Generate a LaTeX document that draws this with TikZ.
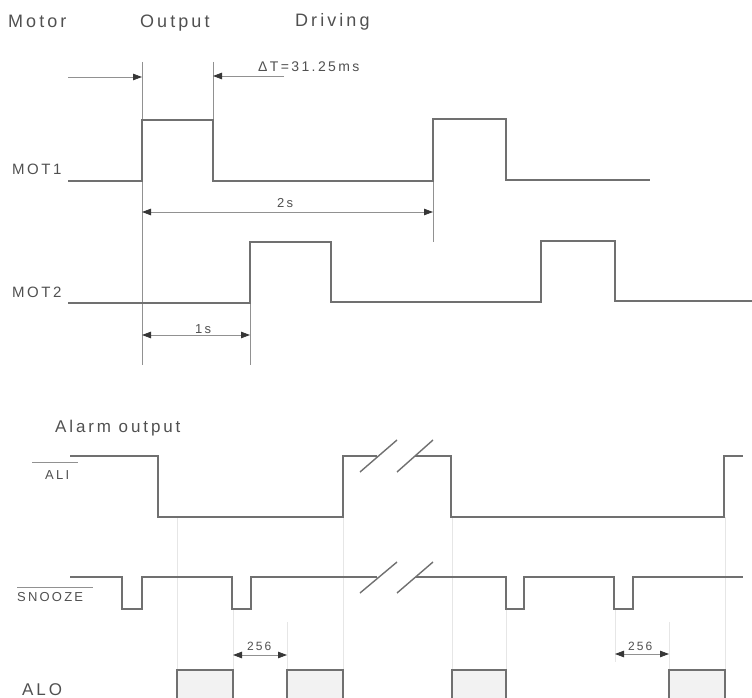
\documentclass[tikz,border=0pt]{standalone}
\usepackage{fontspec}
\setmainfont{Liberation Sans}
\newfontfamily\labfont[LetterSpace=17]{Liberation Sans}
\usetikzlibrary{arrows.meta}
\definecolor{wavegray}{RGB}{112,112,112}
\definecolor{guidegray}{RGB}{145,145,145}
\definecolor{faintgray}{RGB}{230,230,230}
\definecolor{textgray}{RGB}{80,80,80}
\definecolor{tipgray}{RGB}{55,55,55}
\definecolor{alofill}{RGB}{242,242,242}
\begin{document}
\begin{tikzpicture}[x=1pt,y=-1pt,
  wave/.style={draw=wavegray, line width=1.8pt, line join=miter},
  guide/.style={draw=guidegray, line width=0.8pt},
  faint/.style={draw=faintgray, line width=0.8pt},
  tip/.tip={Triangle[length=9pt,width=6.5pt,fill=tipgray,color=tipgray]},
  dimboth/.style={guide, tip-tip},
  dimright/.style={guide, -tip},
  lbl/.style={inner sep=0pt, anchor=base west, text=textgray},
  big/.style={lbl, font=\labfont\fontsize{18}{20}\selectfont},
  mid/.style={lbl, font=\labfont\fontsize{15}{17}\selectfont},
  small/.style={lbl, font=\labfont\fontsize{13}{15}\selectfont},
  tiny/.style={lbl, font=\labfont\fontsize{12}{14}\selectfont},
  slash/.style={draw=wavegray, line width=1.4pt},
  alo/.style={wave, fill=alofill},
]
\useasboundingbox (0,0) rectangle (752,698);

% ---------- titles ----------
\node[big] (motor) at (8,28) {Motor};
\node[big] (output) at (140,28) {Output};
\node[big] (driving) at (295,27) {Driving};

% ---------- guide coordinates ----------
\coordinate (g1top) at (142,62);
\coordinate (g1bot) at (142,365);
\coordinate (g2top) at (213,62);
\coordinate (g2bot) at (213,181);
\coordinate (g3top) at (433,120);
\coordinate (g3bot) at (433,242);
\coordinate (g4top) at (250,303);
\coordinate (g4bot) at (250,365);
\draw[guide] (g1top) -- (g1bot);
\draw[guide] (g2top) -- (g2bot);
\draw[guide] (g3top) -- (g3bot);
\draw[guide] (g4top) -- (g4bot);

% delta T arrows
\coordinate (dtl) at (68,77);
\coordinate (dtla) at (142,77);
\coordinate (dtr) at (284,76);
\coordinate (dtra) at (213,76);
\draw[dimright] (dtl) -- (dtla);
\draw[dimright] (dtr) -- (dtra);
\node[small, font=\labfont\fontsize{14}{16}\selectfont] (dt) at (258,72) {ΔT=31.25ms};

% ---------- MOT1 ----------
\node[mid] (mot1) at (12,174) {MOT1};
\draw[wave] (68,181) -- (142,181) -- (142,120) -- (213,120) -- (213,181)
  -- (433,181) -- (433,119) -- (506,119) -- (506,180) -- (650,180);

% 2s
\coordinate (s2a) at (142,212);
\coordinate (s2b) at (433,212);
\draw[dimboth] (s2a) -- (s2b);
\node[small] (s2) at (277,207) {2s};

% ---------- MOT2 ----------
\node[mid] (mot2) at (12,297) {MOT2};
\draw[wave] (68,303) -- (250,303) -- (250,242) -- (331,242) -- (331,302)
  -- (541,302) -- (541,241) -- (615,241) -- (615,301) -- (752,301);

% 1s
\coordinate (s1a) at (142,335);
\coordinate (s1b) at (250,335);
\draw[dimboth] (s1a) -- (s1b);
\node[small] (s1) at (195,333) {1s};

% ---------- Alarm output ----------
\node[big, font=\labfont\fontsize{17}{19}\selectfont] (alarm) at (55,432) {Alarm output};

% faint guides
\foreach \gx/\gy in {177/517, 233/609, 287/622, 343/517, 452/517, 506/609, 669/622, 725/517}
  \draw[faint] (\gx,\gy) -- (\gx,670);
\draw[faint] (615,609) -- (615,662);

% ALI
\node[small] (ali) at (45,479) {ALI};
\draw[guide, line width=1pt] (32,462) -- (78,462);
\draw[wave] (70,456) -- (158,456) -- (158,517) -- (343,517) -- (343,456) -- (377,456);
\draw[wave] (415,456) -- (451,456) -- (451,517) -- (724,517) -- (724,456) -- (743,456);
\draw[slash] (360,472) -- (397,440);
\draw[slash] (397,472) -- (433,440);

% SNOOZE
\node[small] (snooze) at (17,601) {SNOOZE};
\draw[guide, line width=1pt] (17,587) -- (93,587);
\draw[wave] (70,577) -- (122,577) -- (122,609) -- (142,609) -- (142,577)
  -- (232,577) -- (232,609) -- (251,609) -- (251,577) -- (377,577);
\draw[wave] (416,577) -- (506,577) -- (506,609) -- (524,609) -- (524,577)
  -- (614,577) -- (614,609) -- (633,609) -- (633,577) -- (743,577);
\draw[slash] (360,593) -- (397,562);
\draw[slash] (397,593) -- (433,562);

% 256 dimensions
\coordinate (d1a) at (233,655);
\coordinate (d1b) at (287,655);
\draw[dimboth] (d1a) -- (d1b);
\node[tiny] (d1) at (247,650) {256};
\coordinate (d2a) at (615,654);
\coordinate (d2b) at (669,654);
\draw[dimboth] (d2a) -- (d2b);
\node[tiny] (d2) at (628,650) {256};

% ALO
\node[big, font=\labfont\fontsize{17}{19}\selectfont] (alo) at (22,695) {ALO};
\foreach \a/\b in {177/233, 287/343, 452/506, 669/725}
  \draw[alo] (\a,702) -- (\a,670) -- (\b,670) -- (\b,702);

\end{tikzpicture}
\end{document}
